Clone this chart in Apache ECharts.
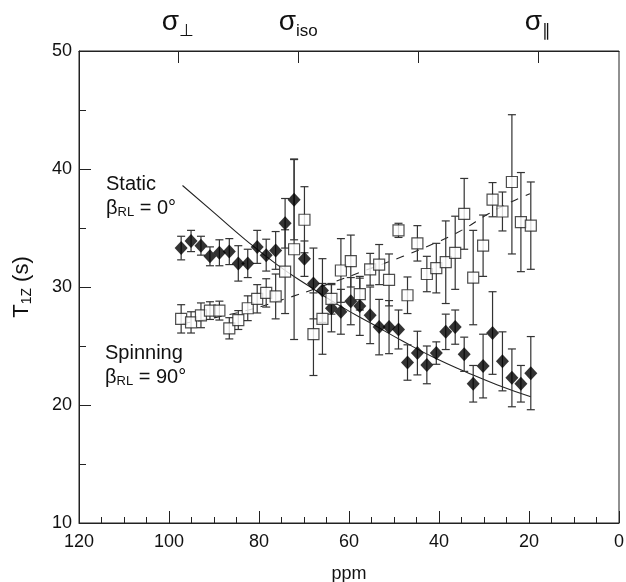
<!DOCTYPE html>
<html>
<head>
<meta charset="utf-8">
<script src="https://cdn.jsdelivr.net/npm/echarts@6/dist/echarts.min.js"></script>
<style>
html,body{margin:0;padding:0;background:#fff;}
#chart{width:626px;height:582px;}
</style>
</head>
<body>
<div id="chart"></div>
<script>
// chemical shift of each point (ppm)
var ppm = [97.3, 95.1, 92.9, 90.9, 88.8, 86.6, 84.6, 82.5, 80.4, 78.4, 76.3, 74.2, 72.2, 69.9, 67.9, 65.9, 63.9, 61.8, 59.6,
    57.6, 55.3, 53.3, 51.1, 49.0, 47.0, 44.8, 42.7, 40.6, 38.5, 36.4, 34.4, 32.4, 30.2, 28.1, 25.9, 23.8, 21.8, 19.6];
// filled diamonds
var diamondT1 = [33.3, 33.9, 33.5, 32.6, 32.9, 33.0, 32.0, 32.0, 33.4, 32.7, 33.1, 35.4, 37.4, 32.4, 30.3, 29.7, 28.2, 27.9, 28.8,
    28.4, 27.6, 26.6, 26.6, 26.4, 23.6, 24.4, 23.4, 24.4, 26.2, 26.6, 24.3, 21.8, 23.3, 26.1, 23.7, 22.3, 21.8, 22.7];
var diamondErr = [1.0, 0.9, 0.8, 0.8, 1.1, 1.1, 1.5, 1.2, 1.4, 1.35, 1.6, 2.1, 3.4, 1.5, 3.0, 2.7, 2.0, 1.9, 2.0,
    2.5, 2.4, 2.35, 2.25, 1.65, 1.5, 1.85, 1.6, 0.95, 1.5, 1.45, 1.45, 1.55, 2.7, 3.5, 2.5, 2.45, 1.55, 3.1];
// open squares
var squareT1 = [27.3, 27.0, 27.6, 28.0, 28.0, 26.5, 27.2, 28.2, 29.0, 29.5, 29.2, 31.3, 33.2, 35.7, 26.0, 27.3, 29.0, 31.4, 32.2,
    29.4, 31.5, 31.9, 30.6, 34.8, 29.3, 33.7, 31.1, 31.6, 32.1, 32.9, 36.2, 30.8, 33.5, 37.4, 36.4, 38.9, 35.5, 35.2];
var squareErrDown = [1.2, 0.9, 1.05, 0.75, 0.8, 0.9, 0.8, 1.05, 1.2, 1.2, 1.9, 3.55, 7.65, 2.8, 3.5, 3.0, 1.3, 2.7, 2.2,
    1.35, 1.35, 1.7, 2.2, 0.6, 1.55, 1.5, 1.5, 2.1, 3.5, 3.1, 3.0, 4.0, 2.6, 1.45, 1.65, 6.1, 4.2, 3.7];
var squareErrUp = [1.2, 0.9, 1.05, 0.75, 0.8, 0.9, 0.8, 1.05, 1.2, 1.2, 1.9, 3.55, 7.65, 2.8, 3.5, 3.0, 1.3, 2.7, 2.2,
    1.35, 1.35, 1.7, 2.2, 0.6, 1.55, 1.5, 1.5, 2.1, 3.5, 3.1, 3.0, 4.0, 2.6, 1.45, 1.65, 5.7, 4.2, 3.7];
// calculated curves
var staticPpm = [97, 90, 83, 76, 69, 62, 55, 48, 41, 34, 27, 19.6];
var staticT1 = [38.6, 36.3, 34.0, 31.9, 30.1, 28.4, 26.9, 25.4, 24.0, 22.8, 21.7, 20.7];
var spinPpm = [97, 85, 75, 65, 55, 48, 41, 35, 29, 24, 19.8];
var spinT1 = [26.9, 27.8, 28.9, 30.2, 31.6, 32.6, 33.7, 34.8, 36.2, 37.2, 37.9];
// top axis marks
var sigmaPpm = [98, 71.3, 44.7, 18];
var sigmaSub = ['⊥', 'iso', '', '∥'];

var FONT = '"Liberation Sans", Arial, sans-serif';

function zip2(a, b) {
    var out = [];
    for (var i = 0; i < a.length; i++) out.push([a[i], b[i]]);
    return out;
}
function errData(x, y, dn, up) {
    var out = [];
    for (var i = 0; i < x.length; i++) out.push([x[i], y[i] - dn[i], y[i] + up[i]]);
    return out;
}
function errorBarItem(params, api) {
    var x = api.value(0);
    var top = api.coord([x, api.value(2)]);
    var bot = api.coord([x, api.value(1)]);
    var half = 4;
    var st = {stroke: '#333', lineWidth: 1.2};
    return {
        type: 'group',
        children: [
            {type: 'line', shape: {x1: top[0], y1: top[1], x2: bot[0], y2: bot[1]}, style: st},
            {type: 'line', shape: {x1: top[0] - half, y1: top[1], x2: top[0] + half, y2: top[1]}, style: st},
            {type: 'line', shape: {x1: bot[0] - half, y1: bot[1], x2: bot[0] + half, y2: bot[1]}, style: st}
        ]
    };
}
var subText = {sub: {fontSize: 13, fontFamily: FONT, fill: '#111', padding: [9, 0, 0, 0]}};

var chart = echarts.init(document.getElementById('chart'));
var option = {
    backgroundColor: '#fff',
    animation: false,
    grid: {
        left: 79, right: 7, top: 51, bottom: 59, show: true, borderColor: '#222', borderWidth: 1,
        containLabel: false, outerBoundsMode: 'none'
    },
    xAxis: [{
        type: 'value', min: 0, max: 120, interval: 20, inverse: true, position: 'bottom',
        name: 'ppm', nameLocation: 'middle', nameGap: 42,
        nameTextStyle: {fontFamily: FONT, fontSize: 18, color: '#111'},
        axisLine: {onZero: false, lineStyle: {color: '#222'}},
        axisTick: {inside: true, length: 12, lineStyle: {color: '#222'}},
        minorTick: {show: true, splitNumber: 4, length: 6, lineStyle: {color: '#222'}},
        axisLabel: {fontFamily: FONT, fontSize: 18, color: '#111', margin: 10},
        splitLine: {show: false}
    }, {
        type: 'value', min: 0, max: 120, inverse: true, position: 'top',
        axisLine: {onZero: false, lineStyle: {color: '#222'}},
        axisTick: {inside: true, length: 12, customValues: sigmaPpm, lineStyle: {color: '#222'}},
        axisLabel: {
            customValues: [sigmaPpm[0], sigmaPpm[1], sigmaPpm[3]],
            margin: 15,
            formatter: function (v) {
                var best = 0;
                for (var i = 0; i < sigmaPpm.length; i++) {
                    if (Math.abs(sigmaPpm[i] - v) < Math.abs(sigmaPpm[best] - v)) best = i;
                }
                return '{s|σ}{sub|' + sigmaSub[best] + '}';
            },
            rich: {
                s: {fontFamily: FONT, fontSize: 28, color: '#111', verticalAlign: 'bottom', lineHeight: 30},
                sub: {fontFamily: FONT, fontSize: 17, color: '#111', verticalAlign: 'bottom', lineHeight: 30, padding: [0, 0, -4, 0]}
            }
        },
        splitLine: {show: false}
    }],
    yAxis: {
        type: 'value', min: 10, max: 50, interval: 10,
        name: 'T{sub|1Z} (s)', nameLocation: 'middle', nameGap: 45, nameRotate: 90,
        nameTextStyle: {
            fontFamily: FONT, fontSize: 22, color: '#111',
            rich: {sub: {fontFamily: FONT, fontSize: 14, color: '#111', padding: [10, 0, 0, 0]}}
        },
        axisLine: {onZero: false, lineStyle: {color: '#222'}},
        axisTick: {inside: true, length: 12, lineStyle: {color: '#222'}},
        minorTick: {show: true, splitNumber: 2, length: 7, lineStyle: {color: '#222'}},
        axisLabel: {fontFamily: FONT, fontSize: 18, color: '#111', margin: 7},
        splitLine: {show: false}
    },
    graphic: [
        {type: 'text', left: 106, top: 174, style: {text: 'Static', font: '20px ' + FONT, fill: '#111'}},
        {type: 'text', left: 106, top: 198, style: {text: 'β{sub|RL} = 0°', font: '20px ' + FONT, fill: '#111', rich: subText}},
        {type: 'text', left: 105, top: 343, style: {text: 'Spinning', font: '20px ' + FONT, fill: '#111'}},
        {type: 'text', left: 105, top: 367, style: {text: 'β{sub|RL} = 90°', font: '20px ' + FONT, fill: '#111', rich: subText}}
    ],
    series: [{
        name: 'static fit', type: 'line', xAxisIndex: 0, data: zip2(staticPpm, staticT1), smooth: true, symbol: 'none',
        lineStyle: {color: '#222', width: 1.1}, z: 2
    }, {
        name: 'spinning fit', type: 'line', xAxisIndex: 0, data: zip2(spinPpm, spinT1), smooth: true, symbol: 'none',
        lineStyle: {color: '#222', width: 1.1, type: [8, 8]}, z: 2
    }, {
        name: 'diamond err', type: 'custom', xAxisIndex: 0, renderItem: errorBarItem,
        data: errData(ppm, diamondT1, diamondErr, diamondErr), encode: {x: 0, y: [1, 2]}, z: 3
    }, {
        name: 'square err', type: 'custom', xAxisIndex: 0, renderItem: errorBarItem,
        data: errData(ppm, squareT1, squareErrDown, squareErrUp), encode: {x: 0, y: [1, 2]}, z: 3
    }, {
        name: 'diamonds', type: 'scatter', xAxisIndex: 0, data: zip2(ppm, diamondT1), symbol: 'diamond', symbolSize: [13, 14],
        itemStyle: {color: '#000'}, z: 4
    }, {
        name: 'squares', type: 'scatter', xAxisIndex: 0, data: zip2(ppm, squareT1), symbol: 'rect', symbolSize: 11,
        itemStyle: {color: '#fff', borderColor: '#222', borderWidth: 1.2}, z: 5
    }]
};
chart.setOption(option);
</script>
</body>
</html>
